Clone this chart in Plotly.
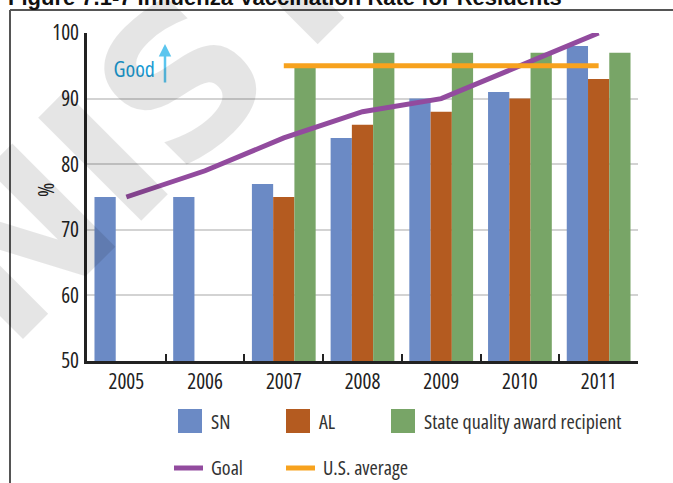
import plotly.graph_objects as go

# ---- data ----
years = ["2005", "2006", "2007", "2008", "2009", "2010", "2011"]
sn = [75, 75, 77, 84, 90, 91, 98]
al = [None, None, 75, 86, 88, 90, 93]
state_award = [None, None, 95, 97, 97, 97, 97]
goal = [75, 79, 84, 88, 90, 95, 100]
us_average = [None, None, 95, 95, 95, 95, 95]

bar_series = ["SN", "AL", "State quality award recipient"]
line_series = ["Goal", "U.S. average"]
y_ticks = [50, 60, 70, 80, 90, 100]

# ---- style ----
FONT = "Open Sans, Arial, sans-serif"
C_SN = "#6b8ac5"
C_AL = "#b45b20"
C_STATE = "#78a567"
C_GOAL = "#924b9e"
C_US = "#f7a21e"
W, H = 673, 483
ML, MR, MT, MB = 87, 35, 33, 122
PW, PH = W - ML - MR, H - MT - MB


def px(x):
    """pixel column -> paper x"""
    return (x - ML) / PW


def py(y):
    """pixel row -> paper y"""
    return 1 - (y - MT) / PH


fig = go.Figure()
for name, vals, col in zip(bar_series, [sn, al, state_award], [C_SN, C_AL, C_STATE]):
    fig.add_trace(go.Bar(x=years, y=vals, name=name, marker_color=col,
                         marker_line_width=0, showlegend=False))

fig.add_trace(go.Scatter(x=years, y=goal, name="Goal", mode="lines",
                         line=dict(color=C_GOAL, width=5), cliponaxis=False,
                         showlegend=False))
fig.add_trace(go.Scatter(x=years, y=us_average, name="U.S. average", mode="lines",
                         line=dict(color=C_US, width=5), cliponaxis=False,
                         showlegend=False))

shapes = []
annotations = []

# frame around the figure
shapes.append(dict(type="line", xref="paper", yref="paper", x0=px(10), x1=px(10),
                   y0=py(10), y1=py(483), line=dict(color="#555", width=2)))
shapes.append(dict(type="line", xref="paper", yref="paper", x0=px(10), x1=px(673),
                   y0=py(10), y1=py(10), line=dict(color="#555", width=2)))

# title (runs off the top edge)
annotations.append(dict(text="<b>Figure 7.1-7 Influenza Vaccination Rate for Residents</b>",
                        xref="paper", yref="paper", x=px(6), y=py(12),
                        xanchor="left", yanchor="bottom", align="left", showarrow=False,
                        font=dict(family="Liberation Sans, Arial", size=22, color="#111")))

# y-axis title
annotations.append(dict(text="%", xref="paper", yref="paper", x=px(45), y=py(190),
                        xanchor="center", yanchor="middle", showarrow=False, textangle=-90,
                        font=dict(family=FONT, size=22, color="#222")))

# "Good" direction marker
annotations.append(dict(text="Good", xref="paper", yref="paper", x=px(157), y=py(68),
                        xanchor="right", yanchor="middle", align="right", showarrow=False,
                        font=dict(family=FONT, size=22, color="#1a9bd3")))
annotations.append(dict(text="", xref="paper", yref="paper", x=px(165), y=py(44),
                        ax=0, ay=40, showarrow=True, arrowhead=2, arrowsize=1,
                        arrowwidth=2.5, arrowcolor="#5bc5ee"))

# legend: swatches + labels
bar_cols = [C_SN, C_AL, C_STATE]
bar_x = [178, 286, 391]
for name, col, x0 in zip(bar_series, bar_cols, bar_x):
    shapes.append(dict(type="rect", xref="paper", yref="paper", x0=px(x0), x1=px(x0 + 24),
                       y0=py(433), y1=py(409), fillcolor=col, line_width=0))
    annotations.append(dict(text=name, xref="paper", yref="paper", x=px(x0 + 31), y=py(421),
                            xanchor="left", yanchor="middle", align="left", showarrow=False,
                            font=dict(family=FONT, size=20, color="#333")))
line_cols = [C_GOAL, C_US]
line_x = [174, 286]
for name, col, x0 in zip(line_series, line_cols, line_x):
    shapes.append(dict(type="line", xref="paper", yref="paper", x0=px(x0), x1=px(x0 + 29),
                       y0=py(468), y1=py(468), line=dict(color=col, width=5)))
    annotations.append(dict(text=name, xref="paper", yref="paper", x=px(x0 + 35), y=py(467),
                            xanchor="left", yanchor="middle", align="left", showarrow=False,
                            font=dict(family=FONT, size=20, color="#333")))

# watermark
annotations.append(dict(text="<b>NIST</b>", xref="paper", yref="paper", x=px(145), y=py(118),
                        xanchor="center", yanchor="middle", showarrow=False, textangle=-45,
                        font=dict(family="DejaVu Sans", size=200, color="rgba(0,0,0,0.10)")))

fig.update_layout(
    width=W, height=H,
    margin=dict(l=ML, r=MR, t=MT, b=MB),
    paper_bgcolor="white", plot_bgcolor="white",
    barmode="group", bargap=0.19, bargroupgap=0,
    showlegend=False,
    font=dict(family=FONT, size=20, color="#222"),
    shapes=shapes, annotations=annotations,
    xaxis=dict(type="category", categoryorder="array", categoryarray=years,
               showline=True, linecolor="#222", linewidth=2.5,
               ticks="inside", tickson="boundaries", ticklen=7, tickwidth=2,
               tickcolor="#222", showgrid=False,
               tickfont=dict(family=FONT, size=21, color="#222")),
    yaxis=dict(range=[50, 100], tickvals=y_ticks, showgrid=True, gridcolor="#d3d3d3",
               gridwidth=2, showline=True, linecolor="#222", linewidth=2.5,
               zeroline=False, ticks="", ticklabelstandoff=1,
               tickfont=dict(family=FONT, size=21, color="#222")),
)

# narrow the chart lettering (title and watermark keep their normal width)
narrow_js = """
var gd = document.getElementById('{plot_id}');
gd.querySelectorAll('text').forEach(function (t) {
  var s = t.textContent;
  if (s === 'NIST' || s.indexOf('Figure') === 0) { return; }
  t.style.fontStretch = '78%';
});
"""

fig.write_html("out.html", post_script=narrow_js)
